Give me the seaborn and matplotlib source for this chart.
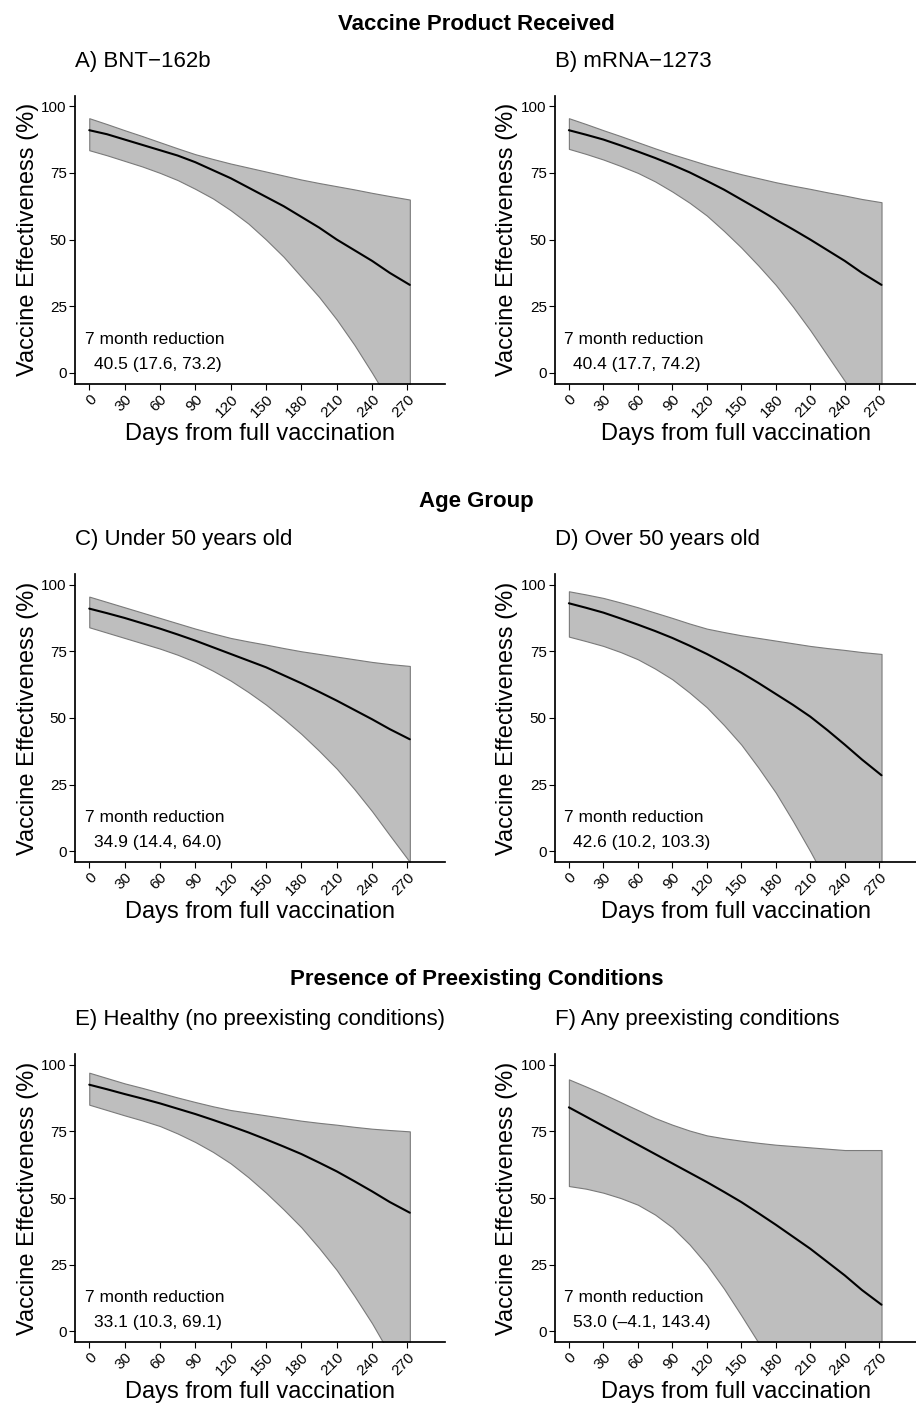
import matplotlib
matplotlib.use("Agg")
import matplotlib.pyplot as plt
import seaborn as sns
import pandas as pd

sns.set_theme(style="ticks")
plt.rcParams['font.family'] = ['Liberation Sans', 'DejaVu Sans']
plt.rcParams['text.color'] = 'black'
plt.rcParams['xtick.color'] = 'black'
plt.rcParams['ytick.color'] = 'black'
plt.rcParams['axes.labelcolor'] = 'black'
plt.rcParams['axes.edgecolor'] = 'black'

days = [0, 15, 30, 45, 60, 75, 90, 105, 120, 135, 150, 165, 180, 195, 210, 225, 240, 255, 272]

titles = ["A) BNT\u2212162b", "B) mRNA\u22121273", "C) Under 50 years old",
          "D) Over 50 years old", "E) Healthy (no preexisting conditions)",
          "F) Any preexisting conditions"]
sections = ["Vaccine Product Received", "Age Group", "Presence of Preexisting Conditions"]
reductions = ["40.5 (17.6, 73.2)", "40.4 (17.7, 74.2)", "34.9 (14.4, 64.0)",
              "42.6 (10.2, 103.3)", "33.1 (10.3, 69.1)", "53.0 (\u20134.1, 143.4)"]

est_A = [91, 89.5, 87.5, 85.5, 83.5, 81.5, 79, 76, 73, 69.5, 66, 62.5, 58.5, 54.5, 50, 46, 42, 37.5, 33]
hi_A = [95.5, 93.3, 91, 88.8, 86.5, 84.2, 82, 80.2, 78.5, 77, 75.5, 74, 72.5, 71.2, 70, 68.8, 67.5, 66.3, 65]
lo_A = [83.5, 81.6, 79.5, 77.4, 75, 72.3, 69, 65.4, 61, 56, 50, 43.5, 36, 28.5, 20, 10.5, 0, -11, -25]
est_B = [91, 89.3, 87.5, 85.3, 83, 80.6, 78, 75.2, 72, 68.7, 65, 61.3, 57.5, 53.8, 50, 46, 42, 37.5, 33]
hi_B = [95.5, 93.3, 91, 88.8, 86.5, 84.2, 82, 80, 78, 76.2, 74.5, 73, 71.5, 70.2, 69, 67.7, 66.5, 65.2, 64]
lo_B = [84, 82.1, 80, 77.6, 75, 71.8, 68, 63.8, 59, 53.2, 47, 40.2, 33, 24.8, 16, 6.5, -3, -13, -25]
est_C = [91, 89.3, 87.5, 85.5, 83.5, 81.3, 79, 76.5, 74, 71.5, 69, 66, 63, 59.8, 56.5, 53, 49.5, 45.8, 42]
hi_C = [95.5, 93.5, 91.5, 89.5, 87.5, 85.5, 83.5, 81.7, 80, 78.7, 77.5, 76.2, 75, 74, 73, 72, 71, 70.2, 69.5]
lo_C = [84, 82, 80, 78, 76, 73.7, 71, 67.7, 64, 59.7, 55, 49.7, 44, 37.7, 31, 23.3, 15, 6, -4]
est_D = [93, 91.3, 89.5, 87.3, 85, 82.6, 80, 77.1, 74, 70.6, 67, 63.1, 59, 54.9, 50.5, 45.4, 40, 34.4, 28.5]
hi_D = [97.5, 96.3, 95, 93.3, 91.5, 89.5, 87.5, 85.4, 83.5, 82.2, 81, 80, 79, 78, 77, 76.2, 75.5, 74.7, 74]
lo_D = [80.5, 78.8, 77, 74.7, 72, 68.5, 64.5, 59.5, 54, 47.3, 40, 31.3, 22, 11.3, 0, -12, -25, -37, -50]
est_E = [92.5, 90.8, 89, 87.3, 85.5, 83.5, 81.5, 79.3, 77, 74.6, 72, 69.3, 66.5, 63.3, 60, 56.3, 52.5, 48.5, 44.5]
hi_E = [97, 95, 93, 91.3, 89.5, 87.7, 86, 84.4, 83, 82, 81, 80, 79, 78.2, 77.5, 76.7, 76, 75.5, 75]
lo_E = [85, 83, 81, 79.1, 77, 74.2, 71, 67.3, 63, 57.8, 52, 45.7, 39, 31.3, 23, 13.3, 3, -8.5, -20]
est_F = [84, 80.5, 77, 73.5, 70, 66.5, 63, 59.5, 56, 52.3, 48.5, 44.3, 40, 35.5, 31, 26, 21, 15.5, 10]
hi_F = [94.5, 91.8, 89, 86, 83, 80, 77.5, 75.3, 73.5, 72.4, 71.5, 70.7, 70, 69.5, 69, 68.5, 68, 68, 68]
lo_F = [54.5, 53.5, 52, 50, 47.5, 43.8, 39, 32.6, 25, 16, 6, -4.3, -15, -27, -40, -52, -65, -77, -90]

series = [(est_A, lo_A, hi_A), (est_B, lo_B, hi_B), (est_C, lo_C, hi_C),
          (est_D, lo_D, hi_D), (est_E, lo_E, hi_E), (est_F, lo_F, hi_F)]

fig = plt.figure(figsize=(9.16, 14.05), dpi=100)
lefts = [0.082, 0.606]
widths = [0.404, 0.394]
bottoms = [0.727, 0.3865, 0.0448]
section_y = [0.979, 0.639, 0.299]
H = 0.205

for i, (est, lo, hi) in enumerate(series):
    r, c = divmod(i, 2)
    ax = fig.add_axes([lefts[c], bottoms[r], widths[c], H])
    ax.fill_between(days, lo, hi, color="#bebebe", edgecolor="#7a7a7a", linewidth=0.8)
    df = pd.DataFrame({"day": days, "ve": est})
    sns.lineplot(data=df, x="day", y="ve", ax=ax, color="black", linewidth=1.5)
    ax.set_xlim(-12, 302)
    ax.set_ylim(-4, 104)
    ax.set_yticks([0, 25, 50, 75, 100])
    ax.set_xticks(range(0, 271, 30))
    ax.set_xticklabels([str(v) for v in range(0, 271, 30)], rotation=45, ha="right",
                       rotation_mode="anchor")
    ax.tick_params(labelsize=11, length=4, width=0.8, pad=2)
    ax.spines["top"].set_visible(False)
    ax.spines["right"].set_visible(False)
    ax.set_xlabel("Days from full vaccination", fontsize=17, labelpad=2)
    ax.set_ylabel("Vaccine Effectiveness (%)", fontsize=17, labelpad=2)
    ax.text(-4, 11, "7 month reduction", fontsize=12.5)
    ax.text(4, 1.5, reductions[i], fontsize=12.5)
    ax.text(0.0, 1.1, titles[i], transform=ax.transAxes, fontsize=16, ha="left")
for s, y in zip(sections, section_y):
    fig.text(0.52, y, s, ha="center", fontsize=16, fontweight="bold")

fig.savefig("out.png", dpi=100)
